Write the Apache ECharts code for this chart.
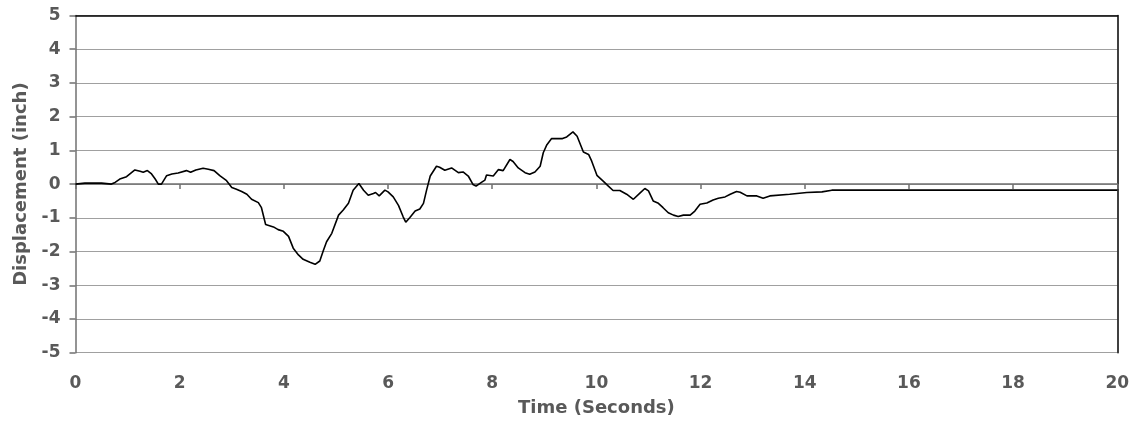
<!DOCTYPE html>
<html>
<head>
<meta charset="utf-8">
<script src="https://cdn.jsdelivr.net/npm/echarts@6/dist/echarts.min.js"></script>
<style>
html,body{margin:0;padding:0;background:#fff;}
#chart{width:1133px;height:425px;}
</style>
</head>
<body>
<div id="chart"></div>
<script>
var times = [0,0.18,0.5,0.53,0.69,0.76,0.85,0.98,1.14,1.24,1.3,1.38,1.46,1.53,1.59,1.65,1.75,1.85,1.97,2.13,2.21,2.31,2.45,2.55,2.66,2.77,2.9,3.0,3.09,3.19,3.29,3.38,3.51,3.57,3.65,3.8,3.89,3.99,4.09,4.18,4.28,4.37,4.5,4.6,4.69,4.76,4.82,4.92,5.05,5.14,5.24,5.33,5.44,5.53,5.62,5.72,5.76,5.83,5.94,6.0,6.1,6.2,6.29,6.34,6.42,6.52,6.61,6.68,6.74,6.81,6.93,6.99,7.09,7.22,7.35,7.44,7.54,7.63,7.69,7.8,7.86,7.89,8.02,8.12,8.21,8.34,8.4,8.5,8.63,8.72,8.82,8.92,8.98,9.05,9.14,9.35,9.43,9.55,9.63,9.75,9.85,9.91,10.01,10.13,10.23,10.32,10.45,10.58,10.71,10.84,10.93,11.0,11.09,11.19,11.28,11.38,11.48,11.57,11.67,11.8,11.89,11.99,12.12,12.24,12.34,12.47,12.57,12.69,12.76,12.89,13.08,13.2,13.33,13.71,14.04,14.33,14.52,14.87,16,18,20];
var displacement = [0,0.03,0.03,0,0,0.05,0.15,0.22,0.42,0.38,0.35,0.40,0.30,0.15,0,0,0.25,0.3,0.33,0.4,0.35,0.42,0.47,0.44,0.4,0.25,0.1,-0.1,-0.15,-0.22,-0.3,-0.45,-0.55,-0.7,-1.2,-1.27,-1.35,-1.4,-1.55,-1.9,-2.1,-2.23,-2.32,-2.38,-2.28,-1.96,-1.71,-1.46,-0.92,-0.77,-0.57,-0.18,0.02,-0.18,-0.33,-0.28,-0.25,-0.35,-0.18,-0.23,-0.38,-0.63,-0.97,-1.13,-0.99,-0.8,-0.74,-0.57,-0.18,0.24,0.53,0.5,0.41,0.48,0.34,0.36,0.24,-0.01,-0.06,0.06,0.12,0.27,0.24,0.43,0.4,0.73,0.67,0.48,0.34,0.29,0.36,0.53,0.93,1.17,1.35,1.35,1.4,1.55,1.42,0.95,0.88,0.68,0.26,0.09,-0.06,-0.19,-0.19,-0.3,-0.45,-0.26,-0.13,-0.2,-0.5,-0.57,-0.7,-0.85,-0.92,-0.96,-0.92,-0.92,-0.8,-0.6,-0.56,-0.47,-0.42,-0.38,-0.3,-0.22,-0.24,-0.35,-0.35,-0.42,-0.35,-0.3,-0.25,-0.23,-0.18,-0.18,-0.18,-0.18,-0.18];
var xTitle = 'Time (Seconds)';
var yTitle = 'Displacement (inch)';

var pts = times.map(function(t,i){return [t, displacement[i]];});
var txt = '#595959';
var font = '"DejaVu Sans", sans-serif';
var chart = echarts.init(document.getElementById('chart'));
chart.setOption({
  animation:false,
  grid:{left:75.5,right:15.7,top:15.5,bottom:72.3,containLabel:false},
  xAxis:[{
    type:'value',min:0,max:20,interval:2,
    name:xTitle,nameLocation:'middle',nameGap:47,
    nameTextStyle:{color:txt,fontWeight:'bold',fontSize:18,fontFamily:font},
    axisLine:{show:true,lineStyle:{color:'#707070',width:1.5}},
    axisTick:{show:true,inside:false,length:5,lineStyle:{color:'#707070',width:1.5}},
    axisLabel:{color:txt,fontWeight:'bold',fontSize:17,fontFamily:font,margin:22},
    splitLine:{show:false}
  },{
    type:'value',min:0,max:20,position:'top',
    axisLine:{show:true,onZero:false,lineStyle:{color:'#000',width:1.5}},
    axisTick:{show:false},axisLabel:{show:false},splitLine:{show:false}
  }],
  yAxis:[{
    type:'value',min:-5,max:5,interval:1,
    name:yTitle,nameLocation:'middle',nameGap:45.5,
    nameTextStyle:{color:txt,fontWeight:'bold',fontSize:18,fontFamily:font},
    axisLine:{show:true,onZero:false,lineStyle:{color:'#707070',width:1.5}},
    axisTick:{show:true,inside:false,length:6,lineStyle:{color:'#707070',width:1.5}},
    axisLabel:{color:txt,fontWeight:'bold',fontSize:17,fontFamily:font,margin:15},
    splitLine:{show:true,lineStyle:{color:'#a0a0a0',width:1.2}}
  },{
    type:'value',min:-5,max:5,position:'right',
    axisLine:{show:true,onZero:false,lineStyle:{color:'#000',width:1.5}},
    axisTick:{show:false},axisLabel:{show:false},splitLine:{show:false}
  }],
  series:[{
    type:'line',data:pts,xAxisIndex:0,yAxisIndex:0,
    showSymbol:false,symbol:'none',
    lineStyle:{color:'#000',width:1.6}
  }]
});
</script>
</body>
</html>
